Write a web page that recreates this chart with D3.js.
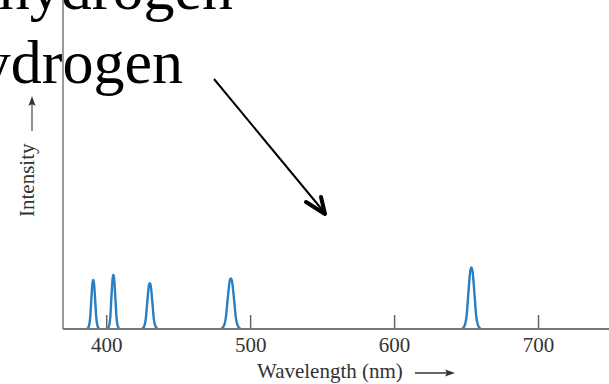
<!DOCTYPE html>
<html>
<head>
<meta charset="utf-8">
<script src="https://cdn.jsdelivr.net/npm/d3@7"></script>
<style>
  html, body { margin: 0; padding: 0; background: #fff; }
  svg { display: block; }
</style>
</head>
<body>
<script>
const w = 609;
const h = 384;

// spectral lines (nm, relative intensity, half width at foot in nm)
const lineNames = ['H-epsilon', 'H-delta', 'H-gamma', 'H-beta', 'H-alpha'];
const lineCenters = [391, 405, 430.3, 486.6, 653.7];
const lineHeights = [14.9, 16.4, 13.9, 15.4, 18.7];
const lineHalfWidths = [4.3, 4.3, 5.6, 7.0, 6.6];

// peak profile shape (offset in half widths, fraction of height)
const profileOffsets = [-1, -0.75, -0.5, -0.3, -0.12, 0, 0.12, 0.3, 0.5, 0.75, 1];
const profileLevels = [0, 0.04, 0.22, 0.62, 0.94, 1, 0.94, 0.62, 0.22, 0.04, 0];

const xTicks = [400, 500, 600, 700];
const xLabel = 'Wavelength (nm)';
const yLabel = 'Intensity';
const titleLines = ['hydrogen', 'hydrogen'];

const xScale = d3.scaleLinear().domain([370, 749.3]).range([63, 609]);
const yScale = d3.scaleLinear().domain([0, 100]).range([329, 0]);

const svg = d3.select('body').append('svg')
  .attr('width', w)
  .attr('height', h)
  .style('font-family', '"Liberation Serif", "DejaVu Serif", serif');

// big caption text, running off the top-left
svg.append('text')
  .attr('x', 233).attr('y', 9)
  .attr('text-anchor', 'end')
  .style('font-size', '62px')
  .text(titleLines[0]);
svg.append('text')
  .attr('x', 183).attr('y', 83)
  .attr('text-anchor', 'end')
  .style('font-size', '62px')
  .text(titleLines[1]);

// spectrum peaks
const line = d3.line()
  .x(d => xScale(d[0]))
  .y(d => yScale(d[1]))
  .curve(d3.curveMonotoneX);

svg.selectAll('path.peak')
  .data(lineCenters.map((c, i) => profileOffsets.map((o, k) =>
    [c + o * lineHalfWidths[i], lineHeights[i] * profileLevels[k]])))
  .enter()
  .append('path')
  .attr('class', 'peak')
  .attr('d', line)
  .style('fill', 'none')
  .style('stroke', '#2a7fc2')
  .style('stroke-width', 2.4)
  .style('stroke-linejoin', 'round');

// x axis with ticks pointing up
const xAxis = d3.axisBottom(xScale)
  .tickValues(xTicks)
  .tickSize(-14)
  .tickFormat(d3.format('d'));

const gx = svg.append('g')
  .attr('transform', 'translate(0,329)')
  .call(xAxis);
gx.select('.domain').remove();
gx.selectAll('.tick line').attr('stroke', '#666').attr('stroke-width', 1.5);
gx.selectAll('.tick text')
  .attr('fill', '#333')
  .attr('y', 23)
  .attr('dy', 0)
  .style('font-family', '"Liberation Serif", serif')
  .style('font-size', '21px');

gx.append('line')
  .attr('x1', xScale.range()[0]).attr('x2', xScale.range()[1])
  .attr('y1', 0).attr('y2', 0)
  .attr('stroke', '#777')
  .attr('stroke-width', 2);

// y axis line
svg.append('line')
  .attr('x1', 63).attr('x2', 63)
  .attr('y1', 0).attr('y2', 329)
  .attr('stroke', '#777')
  .attr('stroke-width', 1.5);

// axis labels
svg.append('text')
  .attr('x', 257).attr('y', 378)
  .attr('fill', '#333')
  .style('font-size', '21px')
  .text(xLabel);
svg.append('line')
  .attr('x1', 415).attr('x2', 448)
  .attr('y1', 373).attr('y2', 373)
  .attr('stroke', '#333').attr('stroke-width', 1.3);
svg.append('path')
  .attr('d', 'M455,373 L445,369.5 L447,373 L445,376.5 Z')
  .attr('fill', '#333');

svg.append('text')
  .attr('transform', 'translate(34,217) rotate(-90)')
  .attr('fill', '#333')
  .style('font-size', '21px')
  .text(yLabel);
svg.append('line')
  .attr('x1', 32).attr('x2', 32)
  .attr('y1', 131).attr('y2', 103)
  .attr('stroke', '#555').attr('stroke-width', 1.3);
svg.append('path')
  .attr('d', 'M32,96 L28.5,106 L32,104 L35.5,106 Z')
  .attr('fill', '#333');

// hand-drawn pointer arrow
svg.append('line')
  .attr('x1', 214).attr('y1', 79)
  .attr('x2', 324).attr('y2', 212)
  .attr('stroke', '#000').attr('stroke-width', 2);
svg.append('path')
  .attr('d', 'M306,202 L325,214 L321,197')
  .attr('fill', 'none')
  .attr('stroke', '#000')
  .attr('stroke-width', 4)
  .attr('stroke-linecap', 'round')
  .attr('stroke-linejoin', 'round');
</script>
</body>
</html>
